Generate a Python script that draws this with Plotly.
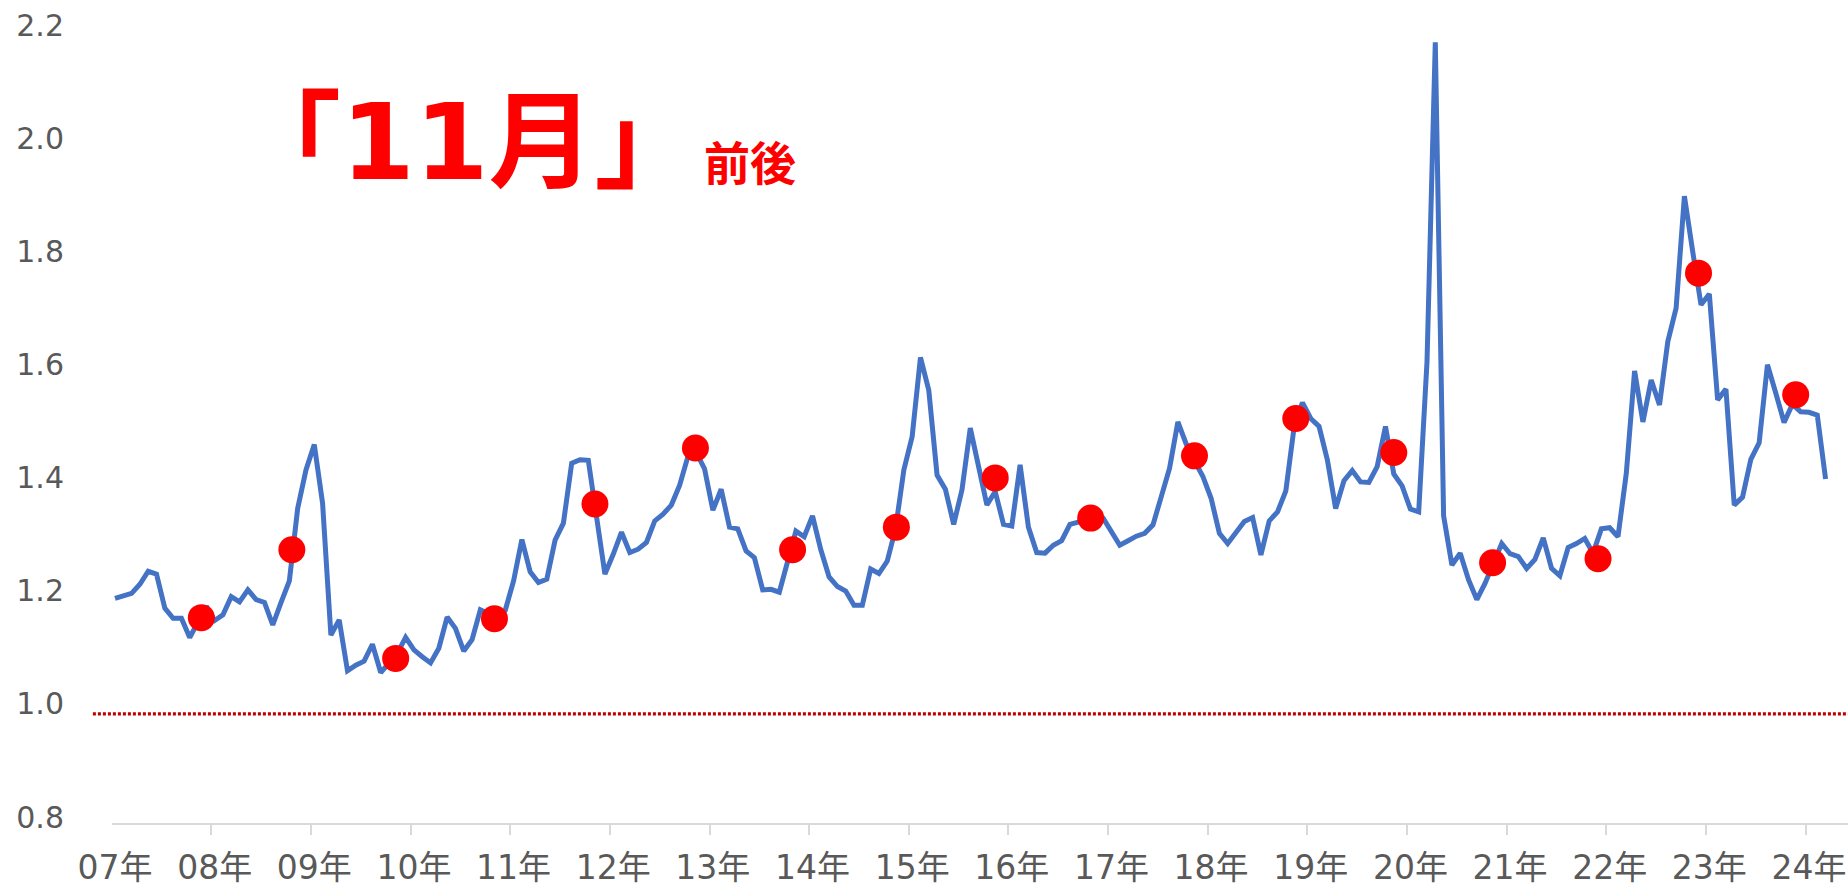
import plotly.graph_objects as go

# x軸ラベル（各年1月）
year_labels = ["07年", "08年", "09年", "10年", "11年", "12年", "13年", "14年", "15年",
               "16年", "17年", "18年", "19年", "20年", "21年", "22年", "23年", "24年"]

# 月次の値 2007年1月〜2024年3月
ratio = [
    1.197, 1.201, 1.206, 1.222, 1.245, 1.240, 1.180, 1.162, 1.162, 1.128, 1.155, 1.183,  # 2007
    1.158, 1.168, 1.200, 1.191, 1.212, 1.195, 1.190, 1.150, 1.190, 1.228, 1.356, 1.424,  # 2008
    1.469, 1.365, 1.132, 1.159, 1.069, 1.079, 1.086, 1.116, 1.066, 1.082, 1.100, 1.128,  # 2009
    1.106, 1.094, 1.083, 1.109, 1.164, 1.144, 1.104, 1.124, 1.177, 1.170, 1.162, 1.176,  # 2010
    1.228, 1.301, 1.244, 1.225, 1.231, 1.300, 1.330, 1.436, 1.442, 1.441, 1.340, 1.240,  # 2011
    1.275, 1.314, 1.278, 1.284, 1.296, 1.334, 1.346, 1.362, 1.397, 1.448, 1.455, 1.426,  # 2012
    1.353, 1.390, 1.323, 1.320, 1.281, 1.269, 1.212, 1.213, 1.208, 1.260, 1.316, 1.306,  # 2013
    1.343, 1.283, 1.235, 1.218, 1.210, 1.185, 1.185, 1.249, 1.241, 1.263, 1.320, 1.424,  # 2014
    1.483, 1.623, 1.565, 1.415, 1.390, 1.328, 1.389, 1.498, 1.430, 1.362, 1.386, 1.328,  # 2015
    1.325, 1.433, 1.323, 1.278, 1.277, 1.291, 1.299, 1.328, 1.332, 1.335, 1.340, 1.339,  # 2016
    1.315, 1.291, 1.299, 1.307, 1.312, 1.327, 1.377, 1.427, 1.509, 1.470, 1.440, 1.413,  # 2017
    1.374, 1.312, 1.294, 1.315, 1.333, 1.340, 1.274, 1.334, 1.350, 1.387, 1.500, 1.543,  # 2018
    1.515, 1.501, 1.442, 1.356, 1.405, 1.423, 1.403, 1.402, 1.430, 1.501, 1.417, 1.396,  # 2019
    1.355, 1.350, 1.615, 2.180, 1.343, 1.256, 1.277, 1.230, 1.195, 1.224, 1.260, 1.294,  # 2020
    1.276, 1.271, 1.250, 1.266, 1.304, 1.250, 1.237, 1.287, 1.294, 1.303, 1.277, 1.320,  # 2021
    1.322, 1.306, 1.418, 1.599, 1.509, 1.583, 1.539, 1.651, 1.710, 1.908, 1.810, 1.716,  # 2022
    1.735, 1.548, 1.567, 1.362, 1.376, 1.443, 1.472, 1.610, 1.560, 1.508, 1.540, 1.527,  # 2023
    1.526, 1.521, 1.408,                                                                  # 2024
]

# 11月前後の赤丸（位置は月番号、0 = 2007年1月）
nov_month = [10.4, 21.3, 33.8, 45.7, 57.8, 69.9, 81.6, 94.1, 106.0, 117.5,
             130.0, 142.2, 154.0, 165.9, 178.6, 190.7, 202.4]
nov_ratio = [1.163, 1.283, 1.091, 1.161, 1.364, 1.463, 1.283, 1.323, 1.410, 1.339,
             1.449, 1.515, 1.455, 1.260, 1.267, 1.772, 1.557]

base_level = 0.993

months = list(range(len(ratio)))
label_font = "DejaVu Sans, Noto Sans CJK JP"

fig = go.Figure()
fig.add_trace(go.Scatter(
    x=months, y=ratio, mode="lines",
    line=dict(color="#4472C4", width=5),
    hoverinfo="skip",
))
fig.add_trace(go.Scatter(
    x=nov_month, y=nov_ratio, mode="markers",
    marker=dict(color="#FF0000", size=27, line=dict(width=0)),
    hoverinfo="skip",
))

# 1.0付近の赤い点線
fig.add_shape(type="line", xref="paper", yref="y", x0=-0.011, x1=1,
              y0=base_level, y1=base_level,
              line=dict(color="#C00000", width=3.3, dash="3px,2px"))

fig.add_annotation(
    text="<b>「<span style='font-family:DejaVu Sans'>11</span>月」</b>",
    xref="paper", yref="paper", x=0.205, y=0.871,
    showarrow=False, xanchor="center", yanchor="middle",
    font=dict(family="Noto Sans CJK JP", size=106, color="#FF0000"))
fig.add_annotation(
    text="<b>前後</b>", xref="paper", yref="paper", x=0.3675, y=0.837,
    showarrow=False, xanchor="center", yanchor="middle",
    font=dict(family="Noto Sans CJK JP", size=46, color="#FF0000"))

fig.update_layout(
    width=1848, height=889,
    margin=dict(l=112, r=0, t=31, b=66),
    plot_bgcolor="white", paper_bgcolor="white",
    showlegend=False,
    xaxis=dict(
        range=[-0.36, 208.7],
        automargin=False,
        tickmode="array",
        tickvals=[12 * i for i in range(len(year_labels))],
        ticktext=year_labels,
        ticks="",
        showgrid=False, zeroline=False,
        showline=True, linecolor="#D9D9D9", linewidth=2,
        tickfont=dict(family=label_font, size=33, color="#595959"),
        ticklabelstandoff=14,
        minor=dict(
            tickmode="array",
            tickvals=[12 * i - 0.4 for i in range(len(year_labels))],
            ticks="outside", ticklen=10, tickwidth=2, tickcolor="#D9D9D9",
            showgrid=False,
        ),
    ),
    yaxis=dict(
        range=[0.8, 2.2],
        automargin=False,
        tickmode="linear", tick0=0.8, dtick=0.2,
        tickformat=".1f",
        showgrid=False, zeroline=False, showline=False,
        ticks="",
        tickfont=dict(family=label_font, size=30, color="#595959"),
        ticklabelstandoff=47,
        ticklabelshift=-6,
    ),
)

fig.write_html("out.html", config={"displayModeBar": False},
               post_script="document.body.style.margin='0';")
